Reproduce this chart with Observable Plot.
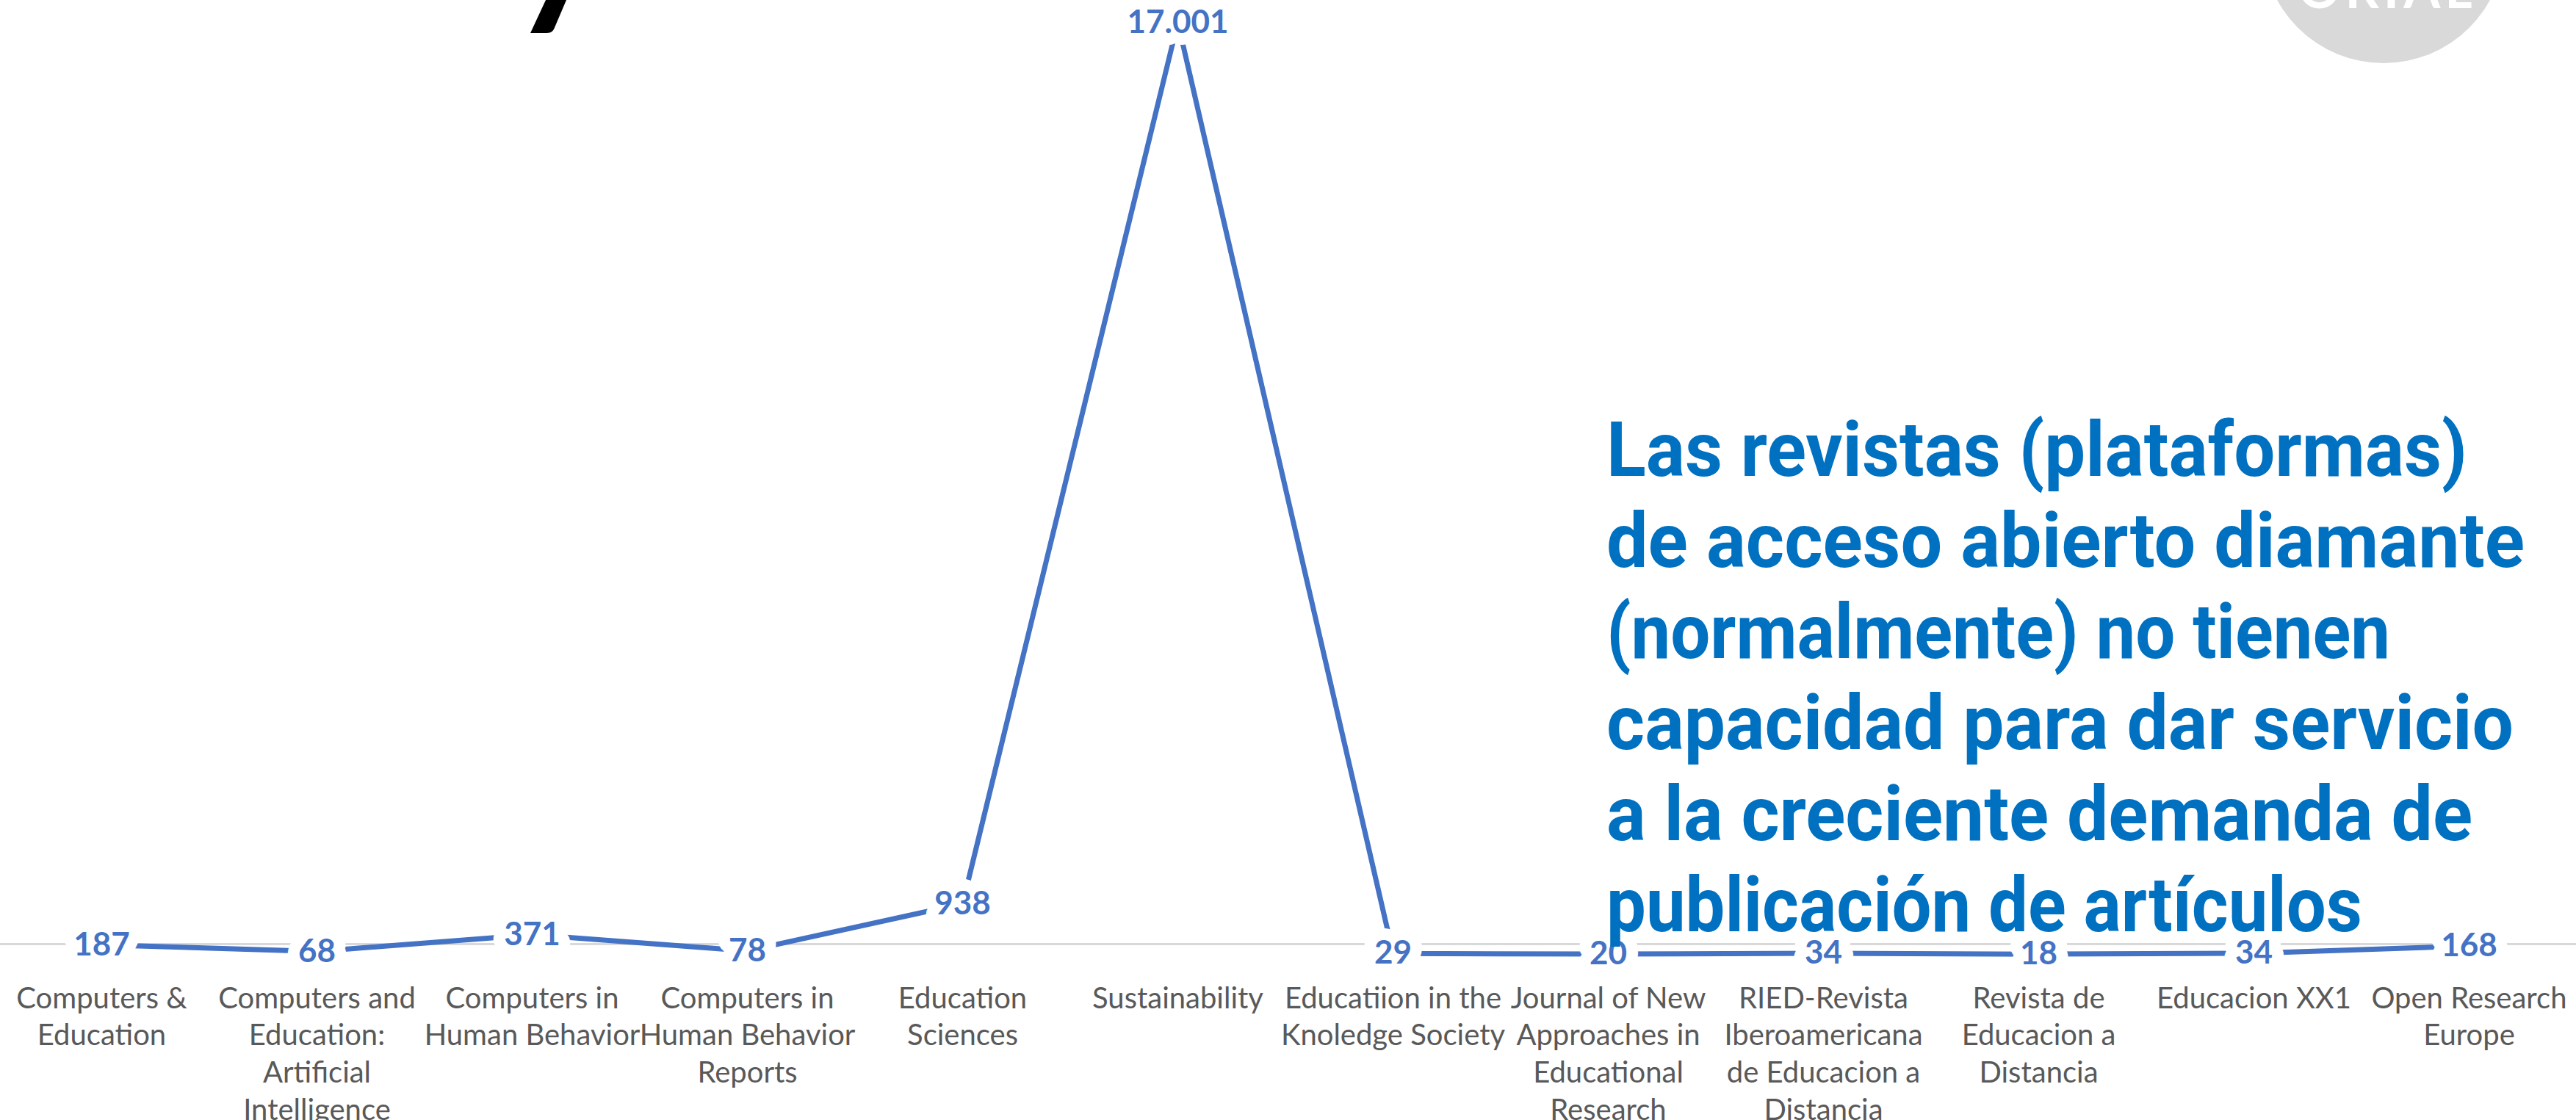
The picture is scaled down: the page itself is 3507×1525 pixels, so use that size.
<!DOCTYPE html>
<html>
<head>
<meta charset="utf-8">
<script src="https://cdn.jsdelivr.net/npm/d3@7"></script>
<script src="https://cdn.jsdelivr.net/npm/@observablehq/plot@0.6"></script>
<style>
  html, body { margin: 0; padding: 0; background: #fff; }
  #wrap { position: relative; width: 3507px; height: 1525px; overflow: hidden; background: #fff; }
  #chart { position: absolute; left: 0; top: 0; }
  #deco { position: absolute; left: 0; top: 0; pointer-events: none; }
</style>
</head>
<body>
<div id="wrap">
  <div id="chart"></div>
  <svg id="deco" width="3507" height="1525"></svg>
</div>
<script>
// ---- data ----
const journals = [
  "Computers & Education",
  "Computers and Education: Artificial Intelligence",
  "Computers in Human Behavior",
  "Computers in Human Behavior Reports",
  "Education Sciences",
  "Sustainability",
  "Educatiion in the Knoledge Society",
  "Journal of New Approaches in Educational Research",
  "RIED-Revista Iberoamericana de Educacion a Distancia",
  "Revista de Educacion a Distancia",
  "Educacion XX1",
  "Open Research Europe"
];
const tickLabels = [
  "Computers &\nEducation",
  "Computers and\nEducation:\nArtificial\nIntelligence",
  "Computers in\nHuman Behavior",
  "Computers in\nHuman Behavior\nReports",
  "Education\nSciences",
  "Sustainability",
  "Educatiion in the\nKnoledge Society",
  "Journal of New\nApproaches in\nEducational\nResearch",
  "RIED-Revista\nIberoamericana\nde Educacion a\nDistancia",
  "Revista de\nEducacion a\nDistancia",
  "Educacion XX1",
  "Open Research\nEurope"
];
const articles = [187, 68, 371, 78, 938, 17001, 29, 20, 34, 18, 34, 168];
const noteLines = [
  "Las revistas (plataformas)",
  "de acceso abierto diamante",
  "(normalmente) no tienen",
  "capacidad para dar servicio",
  "a la creciente demanda de",
  "publicación de artículos"
];
const titleFragment = "y";
const logoText = "ORIAL";

// layout (pixel sizes, not data)
const noteWidths = [1172, 1250, 1067, 1235, 1179, 1029];

// ---- chart ----
const data = journals.map((j, i) => ({journal: j, articles: articles[i]}));
const fmt = d3.formatLocale({decimal: ",", thousands: ".", grouping: [3], currency: ["", "€"]}).format(",");

const chart = Plot.plot({
  width: 3507,
  height: 1525,
  marginLeft: 138,
  marginRight: 146,
  marginTop: 30,
  marginBottom: 225,
  style: {background: "transparent", fontFamily: "Lato"},
  x: {type: "point", domain: journals, padding: 0, label: null},
  y: {domain: [0, 17001], axis: null},
  marks: [
    Plot.ruleY([0], {stroke: "#D9D9D9", strokeWidth: 3, insetLeft: -138, insetRight: -146, dy: -15}),
    Plot.line(data, {x: "journal", y: "articles", stroke: "#4472C4", strokeWidth: 7}),
    Plot.text(data, {
      x: "journal", y: "articles", text: d => fmt(d.articles),
      fill: "#4472C4", stroke: "white", strokeWidth: 32, strokeLinejoin: "round",
      fontSize: 44, fontWeight: 700, fontFamily: "Lato"
    }),
    Plot.axisX({
      tickSize: 0, tickPadding: 36, fontSize: 40, color: "#595959",
      fontFamily: "Lato", lineHeight: 1.27, label: null,
      tickFormat: d => tickLabels[journals.indexOf(d)]
    })
  ]
});
document.getElementById("chart").appendChild(chart);

// ---- decorations ----
const deco = d3.select("#deco");
deco.append("circle").attr("cx", 3245).attr("cy", -79).attr("r", 165).attr("fill", "#D9D9D9");
deco.append("text").attr("x", 3250).attr("y", 11).attr("text-anchor", "middle")
  .attr("font-family", "Lato").attr("font-weight", 700).attr("font-size", 72)
  .attr("letter-spacing", 6).attr("fill", "#fff").text(logoText);
deco.append("text").attr("x", 694).attr("y", 4)
  .attr("font-family", "Lato").attr("font-weight", 700).attr("font-size", 245).attr("fill", "#000").text(titleFragment);
const note = deco.append("g")
  .attr("font-family", "Roboto").attr("font-weight", 700)
  .attr("font-size", 104).attr("fill", "#0070C0");
noteLines.forEach((t, i) => {
  note.append("text").attr("x", 2187).attr("y", 648 + i * 124)
    .attr("textLength", noteWidths[i]).attr("lengthAdjust", "spacingAndGlyphs")
    .text(t);
});
</script>
</body>
</html>
